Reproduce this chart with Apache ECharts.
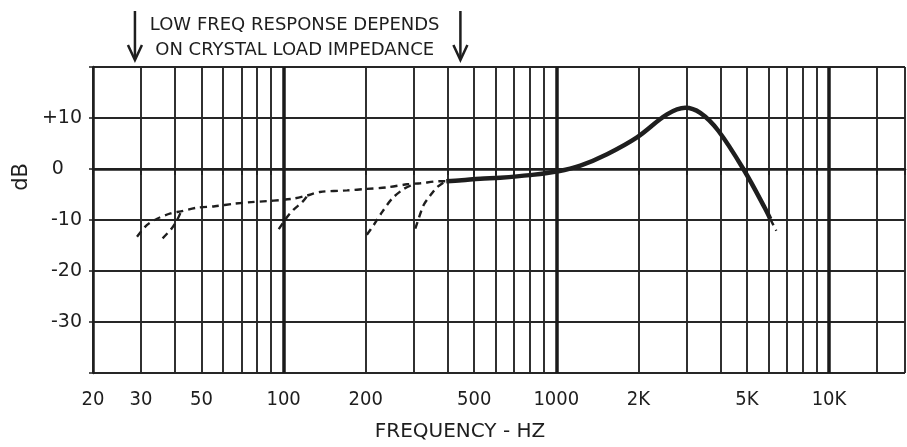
<!DOCTYPE html>
<html><head><meta charset="utf-8">
<script src="https://cdn.jsdelivr.net/npm/echarts@6/dist/echarts.min.js"></script>
<style>html,body{margin:0;padding:0;background:#fff}#c{width:907px;height:447px}</style>
</head><body><div id="c"></div>
<script>
// grid / tick values (Hz)
const gridFreqs = [20,30,40,50,60,70,80,90,100,200,300,400,500,600,700,800,900,1000,2000,3000,4000,5000,6000,7000,8000,9000,10000,15000,19000];
const decadeFreqs = [100,1000,10000];
const labelFreqs = [20,30,50,100,200,500,1000,2000,5000,10000];
const labelNames = ['20','30','50','100','200','500','1000','2K','5K','10K'];
// solid measured response
const solidFreq = [395,450,526,623,800,1017,1225,1535,1977,2547,2972,3373,3928,4889,5838,6090];
const solidDb   = [-2.4,-2.2,-1.9,-1.7,-1.2,-0.45,0.66,2.9,6.2,10.7,12.0,11.0,7.5,-0.3,-7.8,-9.8];
// dotted tail at top end
const tailFreq = [6090,6410];
const tailDb   = [-9.8,-12.1];
// main dashed low-frequency extension
const dashFreq = [29,31.5,34.5,38.5,42,48,56,66,76,87,97,109,122,136,171,202,239,284,317,375,395];
const dashDb   = [-13.3,-11.0,-9.7,-8.7,-8.3,-7.6,-7.3,-6.8,-6.5,-6.3,-6.1,-5.8,-5.2,-4.5,-4.2,-3.9,-3.6,-3.0,-2.8,-2.4,-2.4];
// alternative roll-offs for other load impedances
const alt1Freq = [36,38.8,40.7,42];     const alt1Db = [-13.6,-11.7,-10.0,-8.4];
const alt2Freq = [96,103,108.6,117,122]; const alt2Db = [-11.8,-9.4,-8.0,-6.5,-5.3];
const alt3Freq = [202,214,230,250,276,300]; const alt3Db = [-12.9,-11.0,-8.4,-5.8,-3.9,-3.0];
const alt4Freq = [304,313,326,345,365,392]; const alt4Db = [-11.7,-9.7,-7.1,-5.2,-3.6,-2.4];

const zip = (a,b) => a.map((v,i)=>[v,b[i]]);
const ink = '#1e1e1e';
const font = 'DejaVu Sans';
const fontC = 'DejaVu Sans Condensed';

const chart = echarts.init(document.getElementById('c'));
const dashed = (name, f, d) => ({
  name, type:'line', data: zip(f,d), showSymbol:false, smooth:0.3, xAxisIndex:0,
  lineStyle:{color:ink, width:2.4, type:[7,5]}, z:5
});
const option = {
  animation:false,
  backgroundColor:'#fff',
  grid:{left:93, right:2, top:67, bottom:72},
  xAxis:[{
    type:'log', min:20, max:19000, logBase:10,
    name:'FREQUENCY - HZ', nameLocation:'middle', nameGap:49,
    nameTextStyle:{fontFamily:font, fontSize:20, color:ink, padding:[0,78,0,0]},
    axisLine:{show:true, lineStyle:{color:ink, width:2.5}},
    axisTick:{show:true, length:6, inside:false, customValues:gridFreqs, lineStyle:{color:ink, width:1.5}},
    axisLabel:{customValues:labelFreqs, fontFamily:fontC, fontSize:20, color:ink, margin:17,
      formatter:v=>{const i=labelFreqs.indexOf(Math.round(v)); return i>=0?labelNames[i]:'';}},
    splitLine:{show:true, lineStyle:{color:'#262626', width:1.9}},
    minorTick:{show:false}, minorSplitLine:{show:false}
  },{
    type:'log', min:20, max:19000, logBase:10, position:'top',
    axisLine:{show:false}, axisLabel:{show:false},
    axisTick:{show:false, customValues:decadeFreqs},
    splitLine:{show:true, lineStyle:{color:'#1a1a1a', width:3.5}}
  }],
  yAxis:{
    type:'value', min:-40, max:20, interval:10,
    axisLine:{show:true, lineStyle:{color:ink, width:2.5}},
    axisTick:{show:true, length:4, lineStyle:{color:ink, width:1.5}},
    axisLabel:{fontFamily:font, fontSize:19, color:ink, margin:11,
      formatter:v=> (v===20||v===-40)?'':(v>0?'+'+v:(v<0?'-'+Math.abs(v):'0   '))},
    splitLine:{show:true, lineStyle:{color:'#262626', width:2}}
  },
  series:[
    {name:'response', type:'line', data:zip(solidFreq,solidDb), showSymbol:false, smooth:0.35,
     lineStyle:{color:ink, width:4.5}, z:6},
    dashed('tail', tailFreq, tailDb),
    dashed('low', dashFreq, dashDb),
    dashed('alt1', alt1Freq, alt1Db),
    dashed('alt2', alt2Freq, alt2Db),
    dashed('alt3', alt3Freq, alt3Db),
    dashed('alt4', alt4Freq, alt4Db)
  ]
};
chart.setOption(option);

// annotations positioned from the scales
const ax1 = chart.convertToPixel({xAxisIndex:0}, 28.5);
const ax2 = chart.convertToPixel({xAxisIndex:0}, 445);
const y0 = chart.convertToPixel({yAxisIndex:0}, 0);
const arrow = (x) => ({type:'group', children:[
  {type:'line', shape:{x1:x, y1:11, x2:x, y2:59}, style:{stroke:ink, lineWidth:2.5}},
  {type:'polyline', shape:{points:[[x-7,45],[x,60],[x+7,45]]}, style:{stroke:ink, lineWidth:2.5, fill:null}}
]});
chart.setOption({graphic:[
  arrow(ax1), arrow(ax2),
  {type:'text', x:(ax1+ax2)/2 - 3, y:25, style:{text:'LOW FREQ RESPONSE DEPENDS', font:'18px "DejaVu Sans"', fill:ink, align:'center', verticalAlign:'middle'}},
  {type:'text', x:(ax1+ax2)/2 - 3, y:50, style:{text:'ON CRYSTAL LOAD IMPEDANCE', font:'18px "DejaVu Sans"', fill:ink, align:'center', verticalAlign:'middle'}},
  {type:'text', x:22, y:y0 + 8, rotation:Math.PI/2, style:{text:'dB', font:'21px "DejaVu Sans"', fill:ink, align:'center', verticalAlign:'middle'}}
]});
</script></body></html>
